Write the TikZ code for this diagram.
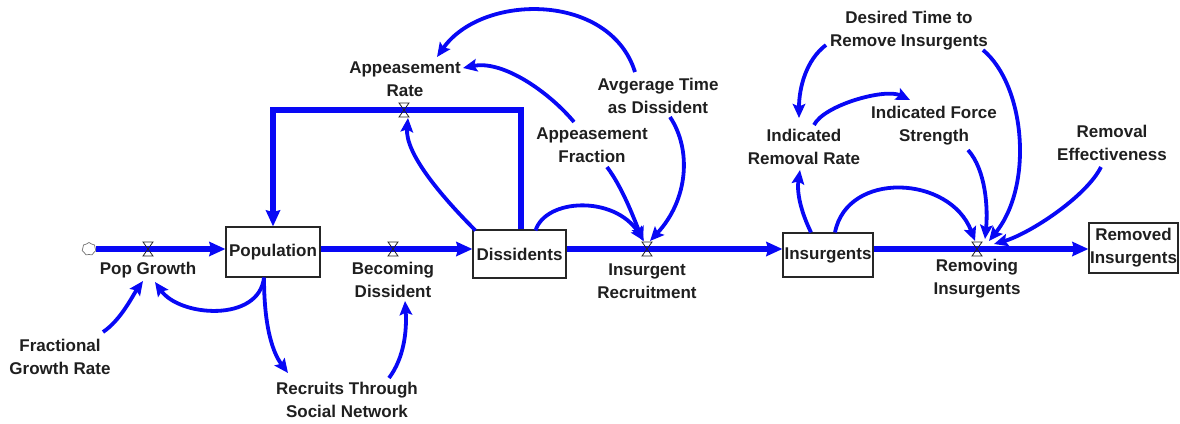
\documentclass[tikz,border=0pt]{standalone}
\usepackage{fontspec}
\newfontfamily\labfont{Liberation Sans}
\usetikzlibrary{arrows.meta,calc,shapes.symbols}
\definecolor{sdblue}{RGB}{8,8,245}
\tikzset{
  lbl/.style={font=\labfont\bfseries\fontsize{17}{23}\selectfont, align=center, inner sep=0pt, text=black!88},
  stock/.style={lbl, draw=black!85, line width=1.1pt, fill=white},
  flow/.style={draw=sdblue, line width=5.6pt, line join=miter,
    -{Stealth[length=16pt,width=14pt,inset=1.5pt]}},
  info/.style={draw=sdblue, line width=3.8pt,
    -{Stealth[length=14pt,width=12.5pt,inset=2.5pt]}},
  valve/.pic={\draw[black!85, line width=0.8pt] (-5,-7) -- (5,-7) -- (-5,7) -- (5,7) -- cycle;}
}
\begin{document}
\begin{tikzpicture}[x=1pt,y=-1pt]
\useasboundingbox (0,0) rectangle (1180,423);

% stocks
\node[stock, minimum width=94pt, minimum height=50pt] (pop) at (273,252) {Population};
\node[stock, minimum width=93pt, minimum height=48pt] (dis) at (519.5,254) {Dissidents};
\node[stock, minimum width=90pt, minimum height=44pt] (ins) at (828,255) {Insurgents};
\node[stock, minimum width=89pt, minimum height=50pt] (rem) at (1133.5,248) {Removed\\Insurgents};

% source cloud
\node[cloud, cloud puffs=7, cloud puff arc=120, draw=black!55, line width=0.7pt, minimum width=14pt, minimum height=13pt, inner sep=0pt] (src) at (89,249) {};

% valves
\coordinate (vPop) at (148,249);
\coordinate (vBec) at (393,249);
\coordinate (vIns) at (647,249);
\coordinate (vRem) at (977,249);
\coordinate (vApp) at (404,110);

% variable labels
\node[lbl] (popg) at (148,270) {Pop Growth};
\node[lbl] (bec) at (393,280) {Becoming\\Dissident};
\node[lbl] (fgr) at (60,357) {Fractional\\Growth Rate};
\node[lbl] (rsn) at (347,400) {Recruits Through\\Social Network};
\node[lbl] (appr) at (405,79) {Appeasement\\Rate};
\node[lbl] (appf) at (592,145) {Appeasement\\Fraction};
\node[lbl] (avg) at (658,96) {Avgerage Time\\as Dissident};
\node[lbl] (irec) at (647,281) {Insurgent\\Recruitment};
\node[lbl] (irr) at (804,147) {Indicated\\Removal Rate};
\node[lbl] (ifs) at (934,126) {Indicated Force\\Strength};
\node[lbl] (dtr) at (909,31) {Desired Time to\\Remove Insurgents};
\node[lbl] (reff) at (1112,143) {Removal\\Effectiveness};
\node[lbl] (rmv) at (977,279) {Removing\\Insurgents};

% material flows
\draw[flow] (src.east) -- (pop.west |- vPop);
\draw[flow] (pop.east |- vBec) -- (dis.west |- vBec);
\draw[flow] (dis.east |- vIns) -- (ins.west |- vIns);
\draw[flow] (ins.east |- vRem) -- (rem.west |- vRem);
\draw[flow, line width=6pt] ($(dis.north)+(1,0)$) |- (vApp) -| (pop.north);

% valve glyphs
\foreach \v in {vPop,vBec,vIns,vRem,vApp} \pic at (\v) {valve};

% information links
\draw[info] ($(fgr)+(43,-25)$) .. controls +(18,-12) and +(-10,14) .. ($(vPop)+(-5,32)$);
\draw[info] ($(pop.south)+(-9,0)$) .. controls +(-5,45) and +(25,35) .. ($(vPop)+(7,33)$);
\draw[info] ($(pop.south)+(-9,0)$) .. controls +(0,50) and +(-15,-20) .. ($(rsn)+(-59,-27)$);
\draw[info] ($(rsn)+(42,-22)$) .. controls +(15,-20) and +(2,30) .. ($(bec)+(12,21)$);
\draw[info] ($(dis.north west)+(3,1)$) .. controls +(-35,-35) and +(-3,35) .. ($(vApp)+(4,8)$);
\draw[info] ($(appf)+(-18,-23)$) .. controls +(-25,-30) and +(40,-8) .. ($(appr)+(58,-11)$);
\draw[info] ($(avg)+(-23,-24)$) .. controls +(-25,-80) and +(45,-64) .. ($(appr)+(32,-22)$);
\draw[info] ($(dis.north east)+(-31,1)$) .. controls +(10,-32) and +(-30,-46) .. ($(vIns)+(-3,-8)$);
\draw[info] ($(appf)+(15,22)$) .. controls +(15,20) and +(-10,-25) .. ($(vIns)+(-4,-8)$);
\draw[info] ($(avg)+(12,21)$) .. controls +(22,33) and +(38,-41) .. ($(vIns)+(3,-8)$);
\draw[info] ($(ins.north)+(-17,0)$) .. controls +(-12,-25) and +(-3,20) .. ($(irr)+(-4,23)$);
\draw[info] ($(ins.north)+(7,0)$) .. controls +(12,-62) and +(-25,-66) .. ($(vRem)+(-2,-8)$);
\draw[info] ($(dtr)+(-83,14)$) .. controls +(-20,15) and +(0,-30) .. ($(irr)+(-5,-29)$);
\draw[info] ($(irr)+(10,-22)$) .. controls +(10,-20) and +(-25,-12) .. ($(ifs)+(-24,-26)$);
\draw[info] ($(ifs)+(34,24)$) .. controls +(18,20) and +(3,-30) .. ($(vRem)+(8,-10)$);
\draw[info] ($(dtr)+(74,19)$) .. controls +(42,35) and +(45,-56) .. ($(vRem)+(12,-8)$);
\draw[info] ($(reff)+(-11,24)$) .. controls +(-15,30) and +(35,-10) .. ($(vRem)+(17,-5)$);
\end{tikzpicture}
\end{document}
